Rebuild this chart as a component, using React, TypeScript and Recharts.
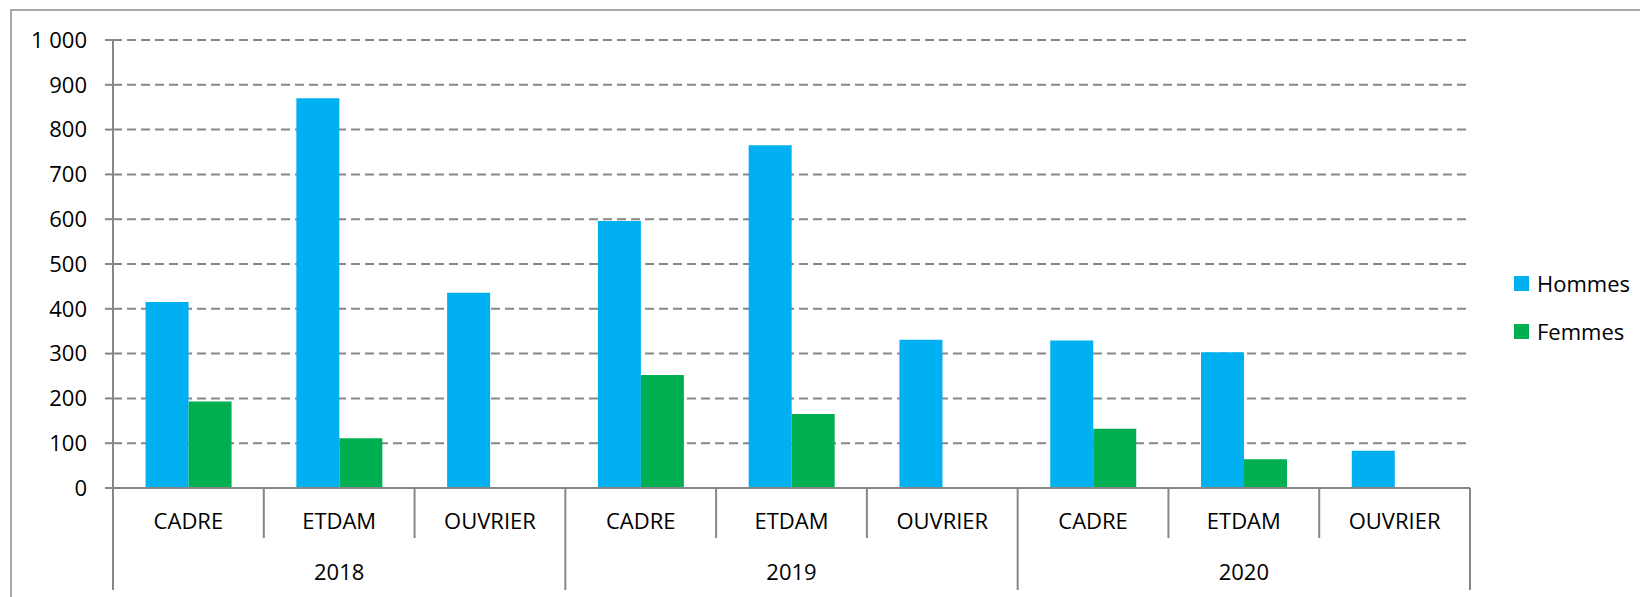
import React from 'react';
import { BarChart, Bar, XAxis, YAxis, CartesianGrid, Legend } from 'recharts';

const years = ['2018', '2019', '2020'];
const categories = ['CADRE', 'ETDAM', 'OUVRIER'];
const seriesNames = ['Hommes', 'Femmes'];
const seriesColors = ['#00B0F0', '#00B050'];
const hommes = [415, 870, 436, 596, 765, 331, 329, 303, 83];
const femmes: (number | null)[] = [193, 111, null, 252, 165, null, 132, 64, null];
const yTicks = [0, 100, 200, 300, 400, 500, 600, 700, 800, 900, 1000];

const data = years.flatMap((yr, yi) =>
  categories.map((c, ci) => ({
    key: `${yr}-${c}`,
    year: yr,
    cat: c,
    Hommes: hommes[yi * categories.length + ci],
    Femmes: femmes[yi * categories.length + ci],
  }))
);

const FONT = "'Open Sans', sans-serif";
const AXIS = '#878787';

const fmt = (v: number) => {
  const s = String(v);
  return s.length > 3 ? s.slice(0, s.length - 3) + ' ' + s.slice(-3) : s;
};

const XTick = (props: any) => {
  const { x, y, payload, index, width } = props;
  const row = data[index];
  if (!row) return null;
  const n = data.length;
  const half = typeof payload?.offset === 'number' && payload.offset > 0 ? payload.offset : width / n / 2;
  const left = x - half;
  const right = x + half;
  const ci = index % categories.length;
  const groupStart = ci === 0;
  const last = index === n - 1;
  return (
    <g>
      <line x1={left} x2={left} y1={y} y2={y + (groupStart ? 102 : 50)} stroke={AXIS} strokeWidth={2} />
      {last && <line x1={right} x2={right} y1={y} y2={y + 102} stroke={AXIS} strokeWidth={2} />}
      <text x={x} y={y + 33} dy="0.36em" textAnchor="middle" fontFamily={FONT} fontSize={22} fill="#000">
        {row.cat}
      </text>
      {ci === 1 && (
        <text x={x} y={y + 84.5} dy="0.36em" textAnchor="middle" fontFamily={FONT} fontSize={22} fill="#000">
          {row.year}
        </text>
      )}
    </g>
  );
};

const LegendContent = (props: any) => {
  const items = [...(props.payload || [])].sort(
    (a: any, b: any) => seriesNames.indexOf(a.value) - seriesNames.indexOf(b.value)
  );
  return (
    <div style={{ width: 126, fontFamily: FONT, fontSize: 22, color: '#000', whiteSpace: 'nowrap' }}>
      {items.map((it: any, i: number) => (
        <div key={i} style={{ display: 'flex', alignItems: 'center', height: 30, marginBottom: 18 }}>
          <span
            style={{
              display: 'inline-block',
              flexShrink: 0,
              width: 15,
              height: 15,
              background: it.color,
              marginRight: 8,
            }}
          />
          <span style={{ lineHeight: '30px' }}>{it.value}</span>
        </div>
      ))}
    </div>
  );
};

export default function App() {
  return (
    <div style={{ position: 'absolute', left: 0, top: 0, width: 1640, height: 597, background: '#fff', overflow: 'hidden' }}>
      <div
        style={{
          position: 'absolute',
          left: 10,
          top: 9,
          width: 1700,
          height: 700,
          borderLeft: '2px solid #a8a8a8',
          borderTop: '2px solid #a8a8a8',
        }}
      />
      <div style={{ position: 'absolute', left: 0, top: 0 }}>
        <BarChart
          width={1640}
          height={597}
          data={data}
          margin={{ top: 40, right: 170, left: 0, bottom: 0 }}
          barCategoryGap="21.6%"
          barGap={0}
        >
          <CartesianGrid vertical={false} horizontal stroke={AXIS} strokeWidth={2} strokeDasharray="9 5" />
          <YAxis
            width={113}
            domain={[0, 1000]}
            ticks={yTicks}
            interval={0}
            tickFormatter={fmt}
            axisLine={{ stroke: AXIS, strokeWidth: 2 }}
            tickLine={{ stroke: AXIS, strokeWidth: 2 }}
            tickSize={8}
            tickMargin={18}
            tick={{ fill: '#000', fontSize: 22, fontFamily: FONT }}
          />
          <XAxis
            dataKey="key"
            height={109}
            interval={0}
            tickSize={0}
            tickMargin={0}
            tickLine={false}
            axisLine={{ stroke: AXIS, strokeWidth: 2 }}
            tick={<XTick />}
          />
          <Legend
            layout="horizontal"
            verticalAlign="middle"
            align="right"
            content={<LegendContent />}
            wrapperStyle={{ position: 'absolute', left: 1514, top: 268, width: 0, height: 0, overflow: 'visible' }}
          />
          {seriesNames.map((s, i) => (
            <Bar key={s} dataKey={s} fill={seriesColors[i]} isAnimationActive={false} />
          ))}
        </BarChart>
      </div>
    </div>
  );
}
